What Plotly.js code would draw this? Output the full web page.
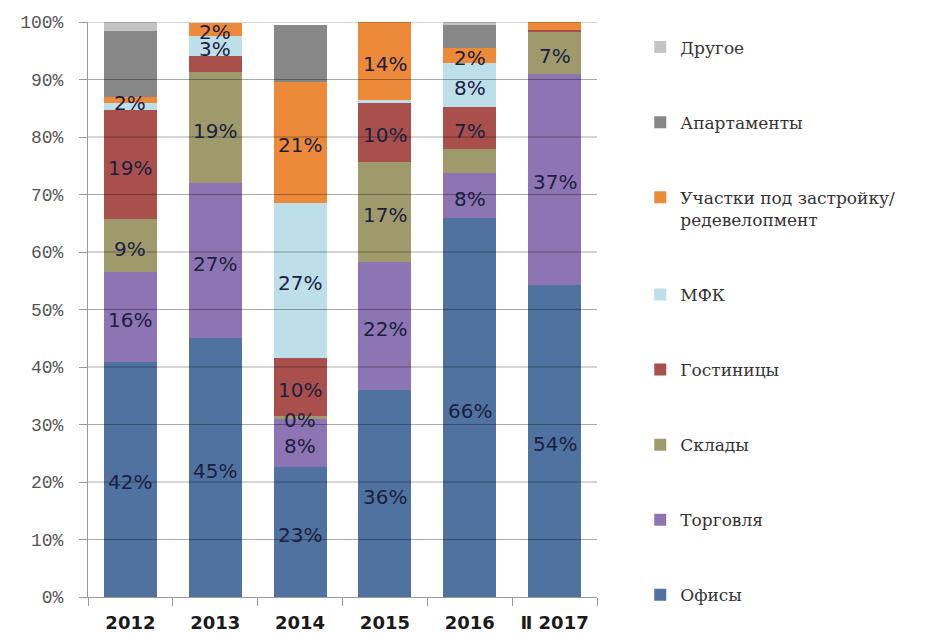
<!DOCTYPE html>
<html>
<head>
<meta charset="utf-8">
<script src="https://cdn.plot.ly/plotly-3.0.1.min.js"></script>
<style>html,body{margin:0;padding:0;background:#fff;}#chart{width:941px;height:636px;}</style>
</head>
<body>
<div id="chart"></div>
<script>
// Categories (x axis)
const categories = ["2012", "2013", "2014", "2015", "2016", "Ⅱ 2017"];

// Series names (bottom to top of the stack)
const seriesNames = ["Офисы", "Торговля", "Склады", "Гостиницы", "МФК",
  "Участки под застройку/<br>редевелопмент", "Апартаменты", "Другое"];

// Shares, %
const offices     = [40.9, 45.0, 22.6, 36.0, 65.9, 54.3];
const retail      = [15.6, 27.0,  8.5, 22.3,  7.8, 36.7];
const warehouses  = [ 9.2, 19.3,  0.3, 17.4,  4.2,  7.3];
const hotels      = [19.0,  2.8, 10.1, 10.2,  7.3,  0.3];
const mixedUse    = [ 1.2,  3.5, 27.1,  0.5,  7.7,  0.0];
const landPlots   = [ 1.1,  2.3, 20.9, 13.6,  2.6,  1.6];
const apartments  = [11.4,  0.0,  9.9,  0.0,  4.0,  0.0];
const other       = [ 1.6,  0.0,  0.0,  0.0,  0.5,  0.0];

// Data labels as printed on the chart
const officesLbl    = ["42%", "45%", "23%", "36%", "66%", "54%"];
const retailLbl     = ["16%", "27%", "8%", "22%", "8%", "37%"];
const warehousesLbl = ["9%", "19%", "0%", "17%", "", "7%"];
const hotelsLbl     = ["19%", "", "10%", "10%", "7%", ""];
const mixedUseLbl   = ["", "3%", "27%", "", "8%", ""];
const landPlotsLbl  = ["2%", "2%", "21%", "14%", "2%", ""];
const apartmentsLbl = ["", "", "", "", "", ""];
const otherLbl      = ["", "", "", "", "", ""];

// Y ticks
const yTicks = [0, 10, 20, 30, 40, 50, 60, 70, 80, 90, 100];
const yTickText = yTicks.map(v => v + "%");

const seriesValues = [offices, retail, warehouses, hotels, mixedUse, landPlots, apartments, other];
const seriesLabels = [officesLbl, retailLbl, warehousesLbl, hotelsLbl, mixedUseLbl, landPlotsLbl, apartmentsLbl, otherLbl];
const colors = ["#4f72a0", "#8c75b2", "#9f9a6c", "#a9504c", "#bcdfe9", "#ec8a3a", "#878787", "#c4c4c4"];

const traces = seriesValues.map((vals, i) => ({
  type: "bar",
  name: seriesNames[i],
  legendgroup: "g" + i,
  legendrank: 1000 - i,
  x: categories,
  y: vals,
  text: seriesLabels[i],
  textposition: "none",
  marker: {color: colors[i], line: {width: 0}},
  hoverinfo: "x+name+text"
}));

// Data labels drawn on top of all bars, centred in each stacked segment
// (x = category index on the category axis, y = stacked data value)
const labelAnnotations = [];
seriesValues.forEach((vals, i) => {
  vals.forEach((v, j) => {
    const lbl = seriesLabels[i][j];
    if (!lbl) return;
    let base = 0;
    for (let k = 0; k < i; k++) base += seriesValues[k][j];
    labelAnnotations.push({
      x: j, y: base + v / 2, xref: "x", yref: "y",
      text: lbl, showarrow: false, yshift: -3,
      font: {family: "DejaVu Sans", size: 20, color: "#1c2040"}
    });
  });
});

const gridShapes = yTicks.filter(v => v > 0).map(v => ({
  type: "line", xref: "paper", x0: 0, x1: 1, yref: "y", y0: v, y1: v,
  layer: "above", line: {color: "rgba(0,0,0,0.33)", width: 1}
}));

const layout = {
  width: 941, height: 636,
  margin: {l: 88, r: 344, t: 22, b: 39},
  paper_bgcolor: "#ffffff", plot_bgcolor: "#ffffff",
  barmode: "stack",
  bargap: 0.375,
  showlegend: true,
  xaxis: {
    type: "category", categoryorder: "array", categoryarray: categories,
    range: [-0.5, categories.length - 0.5],
    tickson: "boundaries", ticks: "outside", ticklen: 8, tickcolor: "#9a9a9a",
    showline: true, linecolor: "#9a9a9a", linewidth: 1,
    showgrid: false, zeroline: false,
    ticklabelstandoff: 9,
    tickfont: {family: "DejaVu Sans", size: 18, color: "#1a1a1a", weight: "bold"},
    fixedrange: true
  },
  yaxis: {
    range: [0, 100], tickmode: "array", tickvals: yTicks, ticktext: yTickText,
    ticks: "outside", ticklen: 8, tickcolor: "#9a9a9a",
    showline: true, linecolor: "#9a9a9a", linewidth: 1,
    showgrid: false, zeroline: false,
    ticklabelstandoff: 12,
    tickfont: {family: "Liberation Mono", size: 18, color: "#555555"},
    fixedrange: true
  },
  shapes: gridShapes,
  annotations: labelAnnotations,
  legend: {
    x: 1.085, xanchor: "left", y: 0.987, yanchor: "top",
    traceorder: "grouped", tracegroupgap: 50,
    valign: "top", maxheight: 700,
    font: {family: "DejaVu Serif", size: 17, color: "#333333"},
    bgcolor: "rgba(0,0,0,0)"
  }
};

Plotly.newPlot("chart", traces, layout, {displayModeBar: false});
</script>
</body>
</html>
